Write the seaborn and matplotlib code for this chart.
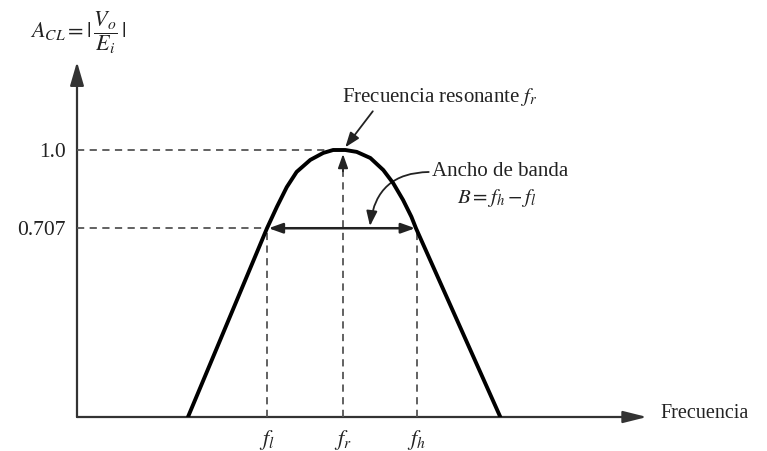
import matplotlib
matplotlib.use("Agg")
import matplotlib.pyplot as plt
import seaborn as sns
import pandas as pd

# Frequency response of a band-pass amplifier (normalised gain vs frequency)
freq = [1.46, 2.50, 2.63, 2.76, 2.89, 3.07, 3.24, 3.37, 3.45, 3.53, 3.68,
        3.86, 4.03, 4.16, 4.29, 4.40, 4.46, 5.57]
gain = [0.0, 0.707, 0.787, 0.861, 0.918, 0.963, 0.989, 1.0, 1.0, 1.0, 0.993,
        0.970, 0.925, 0.876, 0.813, 0.750, 0.707, 0.0]

f_low, f_res, f_high = 2.5, 3.5, 4.47
tick_pos = [f_low, f_res, f_high]
tick_labels = [r"$f_l$", r"$f_r$", r"$f_h$"]
gain_ticks = [0.707, 1.0]
gain_labels = ["0.707", "1.0"]

sns.set_theme(style="white")
plt.rcParams["font.family"] = ["Liberation Serif", "DejaVu Serif"]
plt.rcParams["mathtext.fontset"] = "stix"

W, H = 767, 451
fig = plt.figure(figsize=(W / 100, H / 100), dpi=100)
x0, y0 = 77, 417           # origin in pixels
px_per_x, px_per_y = 76, 267
xmax, ymax = 7.5, 1.33
ax = fig.add_axes([x0 / W, (H - y0) / H, xmax * px_per_x / W, ymax * px_per_y / H])
ax.set_xlim(0, xmax)
ax.set_ylim(0, ymax)
for s in ax.spines.values():
    s.set_visible(False)

df = pd.DataFrame({"f": freq, "A": gain})
sns.lineplot(data=df, x="f", y="A", sort=False, color="black", lw=2.8,
             ax=ax, zorder=5)
ax.set_xlabel("")
ax.set_ylabel("")

axis_col = "#333333"
dash_col = "#555555"
txt_col = "#222222"
# axes with arrowheads
ax.annotate("", xy=(0, ymax), xytext=(0, 0), xycoords="data",
            arrowprops=dict(arrowstyle="-|>,head_length=1.2,head_width=0.35",
                            color=axis_col, lw=1.6, shrinkA=0, shrinkB=0),
            annotation_clip=False)
ax.annotate("", xy=(xmax, 0), xytext=(0, 0), xycoords="data",
            arrowprops=dict(arrowstyle="-|>,head_length=1.2,head_width=0.3",
                            color=axis_col, lw=1.6, shrinkA=0, shrinkB=0),
            annotation_clip=False)

# reference dashed lines
dash = dict(color=dash_col, lw=1.3, dashes=(4, 3), zorder=3)
ax.plot([0, f_res], [1.0, 1.0], **dash)
ax.plot([0, f_low], [0.707, 0.707], **dash)
ax.plot([f_low, f_low], [0, 0.707], **dash)
ax.plot([f_high, f_high], [0, 0.707], **dash)
ax.plot([f_res, f_res], [0, 0.96], **dash)
ax.annotate("", xy=(f_res, 0.985), xytext=(f_res, 0.92),
            arrowprops=dict(arrowstyle="-|>,head_length=0.7,head_width=0.25",
                            color=txt_col, lw=1.3, shrinkA=0, shrinkB=0))

# bandwidth double arrow
ax.annotate("", xy=(f_high - 0.02, 0.707), xytext=(f_low + 0.02, 0.707),
            arrowprops=dict(arrowstyle="<|-|>,head_length=0.7,head_width=0.25",
                            color=txt_col, lw=1.8, shrinkA=0, shrinkB=0),
            zorder=4)

# ticks
ax.set_xticks(tick_pos)
ax.set_xticklabels(tick_labels, fontsize=16)
ax.set_yticks(gain_ticks)
ax.set_yticklabels(gain_labels, fontsize=15.5)
ax.tick_params(axis="both", length=0, colors=txt_col)
ax.tick_params(axis="x", pad=8)
ax.tick_params(axis="y", pad=8)

def px(xp, yp):
    return ((xp - x0) / px_per_x, (y0 - yp) / px_per_y)

# y-axis title
ax.text(*px(30, 33), r"$A_{CL} = |\,\dfrac{V_o}{E_i}\,|$",
        fontsize=16, ha="left", va="center", color=txt_col)
# x-axis title
ax.text(*px(660, 413), "Frecuencia", fontsize=14.5, ha="left", va="center",
        color=txt_col)

# resonant frequency callout
ax.annotate(r"Frecuencia resonante $f_r$", xy=(f_res + 0.03, 1.01),
            xytext=px(342, 97), fontsize=15, ha="left", va="center",
            color=txt_col,
            arrowprops=dict(arrowstyle="-|>,head_length=0.6,head_width=0.22",
                            color=txt_col, lw=1.3, shrinkA=0, shrinkB=0,
                            relpos=(0.17, 0.0)),
            annotation_clip=False)

# bandwidth callout
ax.annotate("Ancho de banda", xy=px(370, 226), xytext=px(432, 172),
            fontsize=15, ha="left", va="center", color=txt_col,
            arrowprops=dict(arrowstyle="-|>,head_length=0.6,head_width=0.22",
                            color=txt_col, lw=1.3, shrinkA=0, shrinkB=0,
                            relpos=(0.0, 0.5),
                            connectionstyle="arc3,rad=0.45"),
            annotation_clip=False)
ax.text(*px(497, 198), r"$B = f_h - f_l$", fontsize=15, ha="center",
        va="center", color=txt_col)

fig.savefig("out.png", dpi=100, facecolor="white")
